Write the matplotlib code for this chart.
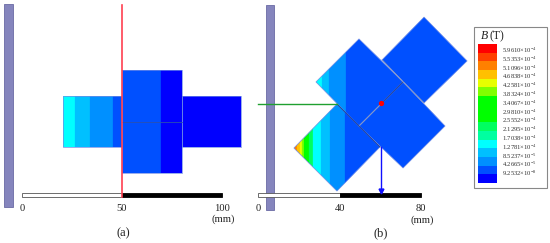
#!/usr/bin/env python
# -*- coding: utf-8 -*-
import matplotlib
matplotlib.use('Agg')
import matplotlib.pyplot as plt
from matplotlib.patches import Polygon, Rectangle

plt.rcParams['font.family'] = ['Liberation Serif', 'DejaVu Serif']
plt.rcParams['mathtext.default'] = 'regular'

# Colour scale, top to bottom
scale_colors = ['#ff0000', '#ff4000', '#ff8000', '#ffc000', '#e8ff00', '#80ff00',
                '#00ff00', '#00ff00', '#00ff00', '#00ff60', '#00ffa0', '#00ffff',
                '#00c0ff', '#0090ff', '#0050ff', '#0000ff']
scale_values = ['5.9610', '5.5353', '5.1096', '4.6838', '4.2581', '3.8324', '3.4067',
                '2.9810', '2.5552', '2.1295', '1.7038', '1.2781', '8.5237', '4.2665',
                '9.2532']
scale_exponents = [-4, -4, -4, -4, -4, -4, -4, -4, -4, -4, -4, -4, -5, -5, -8]

# Panel (a), all in mm. Bands are (x edges, colour index in scale_colors)
a_left_rect = [20.5, 109.5, 25, 50.5]
a_left_edges = [20.5, 26.5, 34, 45.5, 50]
a_left_levels = [11, 12, 13, 14]
a_block = [50, 80, 12, 63.5]
a_block_edges = [50, 69.5, 80]
a_block_levels = [14, 15]
a_right_rect = [80, 109.5, 25, 50.5]
a_right_level = 15
a_ticks = [0, 50, 100]

# Panel (b), all in mm
b_square_1 = [(28.4, 56.4), (49.5, 77.5), (71.1, 56.4), (49.5, 34.8)]
b_square_2 = [(60.8, 67.2), (81.4, 88.2), (102.5, 66.7), (81.4, 46.1)]
b_square_3 = [(49.5, 34.8), (71.1, 56.4), (91.7, 34.8), (71.1, 14.2)]
b_square_4 = [(17.6, 24.0), (38.7, 45.6), (59.8, 24.5), (38.7, 2.9)]
b_edges_1 = [28.4, 31.4, 35, 43, 72]
b_levels_1 = [11, 12, 13, 14]
b_edges_4 = [17.6, 19, 20.5, 21.5, 22.5, 25, 27, 31, 35.3, 42.6, 60]
b_levels_4 = [2, 3, 4, 5, 6, 9, 11, 12, 13, 14]
b_ticks = [0, 40, 80]

ROD = '#8585bd'
ROD_DARK = '#6a6aa4'
EDGE = '#6f8ce6'
TEXT = '#222222'


def add_panel_axes(fig, left_px, right_px, zero_px, px_per_mm):
    # Axes scaled in mm, the origin sits on the left end of the scale bar
    ax = fig.add_axes([left_px / 550, 0, (right_px - left_px) / 550, 1])
    ax.set_xlim((left_px - zero_px) / px_per_mm, (right_px - zero_px) / px_per_mm)
    ax.set_ylim(-46 / px_per_mm, 197 / px_per_mm)
    ax.axis('off')
    return ax


def draw_bands(ax, outline, edges, levels):
    # Vertical colour bands cut to the outline of a square
    clip = Polygon(outline, closed=True, transform=ax.transData)
    for i in range(len(levels)):
        band = Rectangle((edges[i], -10), edges[i + 1] - edges[i], 120, linewidth=0.2,
                         edgecolor=scale_colors[levels[i]],
                         facecolor=scale_colors[levels[i]], zorder=2)
        ax.add_patch(band)
        band.set_clip_path(clip)
    ax.add_patch(Polygon(outline, closed=True, fill=False, edgecolor=EDGE,
                         linewidth=0.5, zorder=3))


def draw_scale_bar(ax, ticks, unit_x):
    mid = ticks[1]
    ax.add_patch(Rectangle((ticks[0], 0), mid - ticks[0], 2, facecolor='white',
                           edgecolor='#555555', linewidth=0.6, zorder=4))
    ax.add_patch(Rectangle((mid, 0), ticks[2] - mid, 2, facecolor='black',
                           edgecolor='black', linewidth=0.6, zorder=4))
    for tick in ticks:
        ax.text(tick, -3.5, str(tick), ha='center', va='top', fontsize=7.6, color=TEXT)
    ax.text(unit_x, -8.8, '(mm)', ha='center', va='top', fontsize=7.6, color=TEXT)


fig = plt.figure(figsize=(5.5, 2.43), dpi=100)

# Panel (a)
ax = add_panel_axes(fig, 0, 250, 22, 2.0)
ax.add_patch(Rectangle((-9, -5), 4.5, 101.5, facecolor=ROD, edgecolor=ROD_DARK, linewidth=0.6))
left_outline = [(a_left_edges[0], a_left_rect[2]), (a_left_edges[-1], a_left_rect[2]),
                (a_left_edges[-1], a_left_rect[3]), (a_left_edges[0], a_left_rect[3])]
draw_bands(ax, left_outline, a_left_edges, a_left_levels)
right_outline = [(a_right_rect[0], a_right_rect[2]), (a_right_rect[1], a_right_rect[2]),
                 (a_right_rect[1], a_right_rect[3]), (a_right_rect[0], a_right_rect[3])]
draw_bands(ax, right_outline, a_right_rect[:2], [a_right_level])
block_outline = [(a_block[0], a_block[2]), (a_block[1], a_block[2]),
                 (a_block[1], a_block[3]), (a_block[0], a_block[3])]
draw_bands(ax, block_outline, a_block_edges, a_block_levels)
ax.plot(a_block[:2], [37.5, 37.5], color='#2a50b0', linewidth=0.6, zorder=4)
ax.plot([50, 50], [0, 96], color='#ff4050', linewidth=1.2, zorder=5)
draw_scale_bar(ax, a_ticks, 100.5)
ax.text(50.5, -15, '(a)', ha='center', va='top', fontsize=9, color=TEXT)

# Panel (b)
ax = add_panel_axes(fig, 250, 470, 258, 2.04)
ax.add_patch(Rectangle((4, -6.5), 4, 100.5, facecolor=ROD, edgecolor=ROD_DARK, linewidth=0.6))
draw_bands(ax, b_square_2, [60, 103], [14])
draw_bands(ax, b_square_4, b_edges_4, b_levels_4)
draw_bands(ax, b_square_1, b_edges_1, b_levels_1)
draw_bands(ax, b_square_3, [49, 92], [14])
# shared edges of the squares
ax.plot([49.5, 60.3], [34.8, 45.6], color='#8a9ac0', linewidth=0.6, zorder=4)
ax.plot([60.3, 71.1], [45.6, 56.4], color='#1c3c90', linewidth=0.6, zorder=4)
ax.plot([60.8, 71.1, 81.4], [67.2, 56.4, 46.1], color='#8a9ac0', linewidth=0.6, zorder=4)
ax.plot([38.7, 59.8], [45.6, 24.5], color='#1c3c90', linewidth=0.6, zorder=4)
ax.plot([0, 38.7], [45.6, 45.6], color='#20a030', linewidth=1.0, zorder=5)
ax.plot([60.2, 60.2], [24.5, 3], color='#1010ff', linewidth=1.0, zorder=5)
ax.plot([60.2], [2.8], marker='v', markersize=3.5, color='#1010ff', zorder=6)
ax.plot([60.2], [46], marker='o', markersize=2.8, color='#ff0000', zorder=6)
draw_scale_bar(ax, b_ticks, 80.5)
ax.text(60, -15, '(b)', ha='center', va='top', fontsize=9, color=TEXT)

# Colour scale box, axes in pixels of the figure
ax = fig.add_axes([0, 0, 1, 1], facecolor='none')
ax.set_xlim(0, 550)
ax.set_ylim(243, 0)
ax.axis('off')
ax.add_patch(Rectangle((473.5, 27.5), 73.5, 160, facecolor='white', edgecolor='#888888', linewidth=0.8))
row = 139.0 / len(scale_colors)
ax.barh([44 + row * (i + 0.5) for i in range(len(scale_colors))], [19] * len(scale_colors),
        height=row, left=478, color=scale_colors, linewidth=0)
for i in range(len(scale_values)):
    ax.text(502, 50.5 + 8.78 * i, scale_values[i] + '×10$^{' + str(scale_exponents[i]) + '}$',
            ha='left', va='center', fontsize=4.7, color='#333333')
ax.text(481, 36, 'B', ha='left', va='center', fontsize=8.5, style='italic', color=TEXT)
ax.text(490, 36, '(T)', ha='left', va='center', fontsize=8.5, color=TEXT)

plt.savefig('out.png', dpi=100)
